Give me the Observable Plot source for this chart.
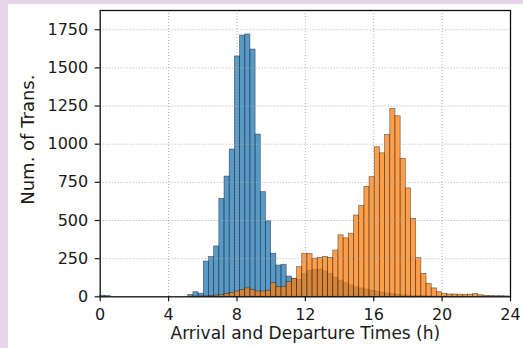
<!DOCTYPE html>
<html><head><meta charset="utf-8">
<script src="https://cdn.jsdelivr.net/npm/d3@7"></script>
<script src="https://cdn.jsdelivr.net/npm/@observablehq/plot@0.6"></script>
<style>
html,body{margin:0;padding:0;background:#e6d4e8;width:523px;height:348px;overflow:hidden}
#panel{position:absolute;left:8px;top:4px;width:515px;height:344px;background:#fff}
#chart{position:absolute;left:0;top:0}
</style></head><body><div id="panel"></div><div id="chart"></div>
<script>
// histogram bin width in hours (bins start at 0)
const binWidth = 0.303;
// arrival counts per bin (blue)
const arrivalCounts = [
  7, 5, 0, 0, 0, 0, 0, 0, 0, 0,
  0, 0, 0, 0, 0, 0, 0, 12, 30, 20,
  231, 260, 330, 642, 788, 965, 1575, 1712, 1719, 1620,
  1063, 686, 495, 282, 205, 210, 133, 118, 110, 150,
  170, 175, 178, 165, 150, 125, 105, 90, 75, 62,
  55, 48, 40, 35, 28, 22, 17, 13, 10, 8,
  6, 5, 4, 3, 2, 2, 1, 1, 1, 1,
  1, 0, 0, 0, 0, 0, 0, 0, 0
];
// departure counts per bin (orange)
const departureCounts = [
  0, 0, 0, 0, 0, 0, 0, 0, 0, 0,
  0, 0, 0, 0, 0, 0, 0, 0, 1, 2,
  3, 5, 8, 12, 18, 25, 35, 45, 55, 45,
  35, 35, 40, 89, 63, 65, 96, 118, 194, 282,
  280, 250, 255, 262, 255, 303, 403, 383, 413, 533,
  595, 720, 784, 980, 940, 1060, 1230, 1183, 904, 710,
  511, 253, 150, 85, 55, 30, 18, 15, 15, 14,
  13, 14, 18, 10, 6, 5, 4, 4, 3
];
const xTicks = [0, 4, 8, 12, 16, 20, 24];
const yTicks = [0, 250, 500, 750, 1000, 1250, 1500, 1750];
const xLabel = "Arrival and Departure Times (h)";
const yLabel = "Num. of Trans.";

const toBins = (counts, series) => counts.map((c, i) => ({series, x1: i * binWidth, x2: (i + 1) * binWidth, count: c}));
const arrivals = toBins(arrivalCounts, "Arrival");
const departures = toBins(departureCounts, "Departure");

const barStyle = {x1: "x1", x2: "x2", y: "count", fillOpacity: 0.75, stroke: "#1a1a1a", strokeOpacity: 0.6, strokeWidth: 0.7, inset: 0};
const gridStyle = {stroke: "#a8a8a8", strokeOpacity: 1, strokeDasharray: "1,2", strokeWidth: 0.9};

const chart = Plot.plot({
  width: 523, height: 348,
  marginLeft: 99.7, marginRight: 13, marginTop: 10, marginBottom: 51.7,
  style: {fontFamily: "DejaVu Sans", fontSize: "16px", background: "transparent", color: "#1a1a1a"},
  x: {domain: [0, 24]},
  y: {domain: [0, 1876]},
  marks: [
    Plot.rectY(arrivals, {...barStyle, fill: "#1f77b4"}),
    Plot.rectY(departures, {...barStyle, fill: "#ff7f0e"}),
    Plot.gridX(xTicks, gridStyle),
    Plot.gridY(yTicks, gridStyle),
    Plot.frame({stroke: "#111", strokeWidth: 1.3}),
    Plot.axisX(xTicks, {tickSize: 5, tickPadding: 7, fontSize: 16, label: null, tickFormat: d => String(d), strokeWidth: 1.2}),
    Plot.axisY(yTicks, {tickSize: 5, tickPadding: 7, fontSize: 16, label: null, tickFormat: d => String(d), strokeWidth: 1.2}),
    Plot.text([xLabel], {text: d => d, frameAnchor: "bottom", dy: 42, fontSize: 17}),
    Plot.text([yLabel], {text: d => d, frameAnchor: "left", textAnchor: "middle", dx: -72, dy: -14, rotate: -90, fontSize: 18})
  ]
});
document.getElementById("chart").appendChild(chart);
</script></body></html>
